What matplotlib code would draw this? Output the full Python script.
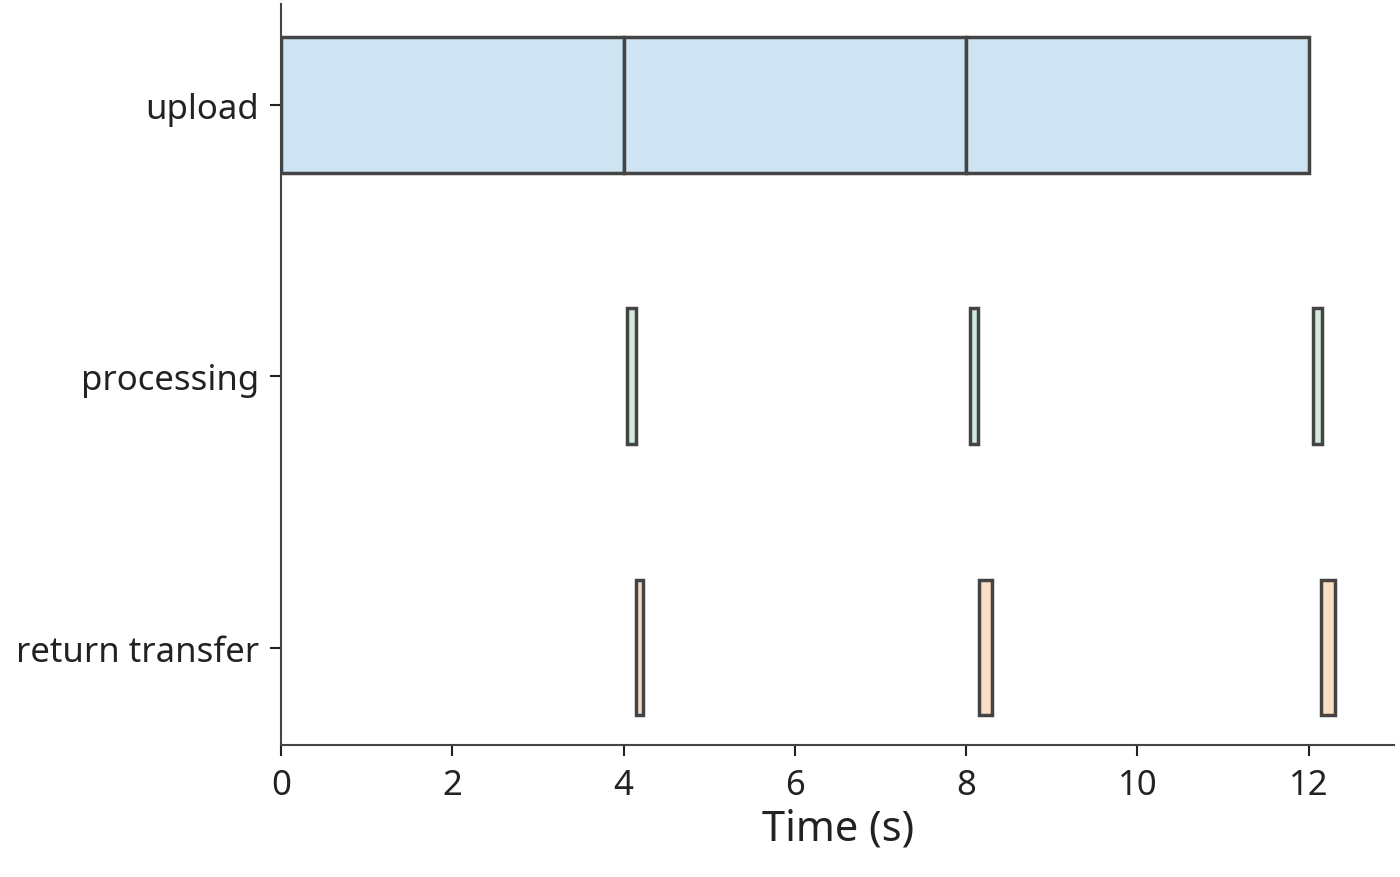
import matplotlib
matplotlib.use("Agg")
import matplotlib.pyplot as plt

plt.rcParams['font.family'] = ['Noto Sans', 'DejaVu Sans']

rows = ["upload", "processing", "return transfer"]
colors = ["#cfe4f3", "#d2ebdd", "#f9dfc3"]
upload_starts = [0, 4, 8]
upload_durs = [4, 4, 4]
proc_starts = [4.04, 8.04, 12.05]
proc_durs = [0.1, 0.1, 0.1]
ret_starts = [4.15, 8.15, 12.14]
ret_durs = [0.08, 0.15, 0.17]
xticks = [0, 2, 4, 6, 8, 10, 12]

fig = plt.figure(figsize=(14, 8.78), dpi=100)
ax = fig.add_axes([0.2007, 0.150, 0.7953, 0.844])
edge = "#444444"
for i, (s, d) in enumerate([(upload_starts, upload_durs), (proc_starts, proc_durs), (ret_starts, ret_durs)]):
    ax.barh([i] * len(s), d, left=s, height=0.5, color=colors[i], edgecolor=edge, linewidth=2.5)

ax.set_ylim(2.36, -0.37)
ax.set_xlim(0, 13.0)
ax.set_yticks(range(len(rows)))
ax.set_yticklabels(rows)
ax.set_xticks(xticks)
ax.tick_params(labelsize=25, colors="#222222", length=8, width=1.5, pad=8)
for sp in ["top", "right"]:
    ax.spines[sp].set_visible(False)
for sp in ["left", "bottom"]:
    ax.spines[sp].set_linewidth(1.5)
    ax.spines[sp].set_color("#444444")
ax.set_xlabel("Time (s)", fontsize=30, color="#222222", labelpad=4)
fig.savefig("out.png", dpi=100)
